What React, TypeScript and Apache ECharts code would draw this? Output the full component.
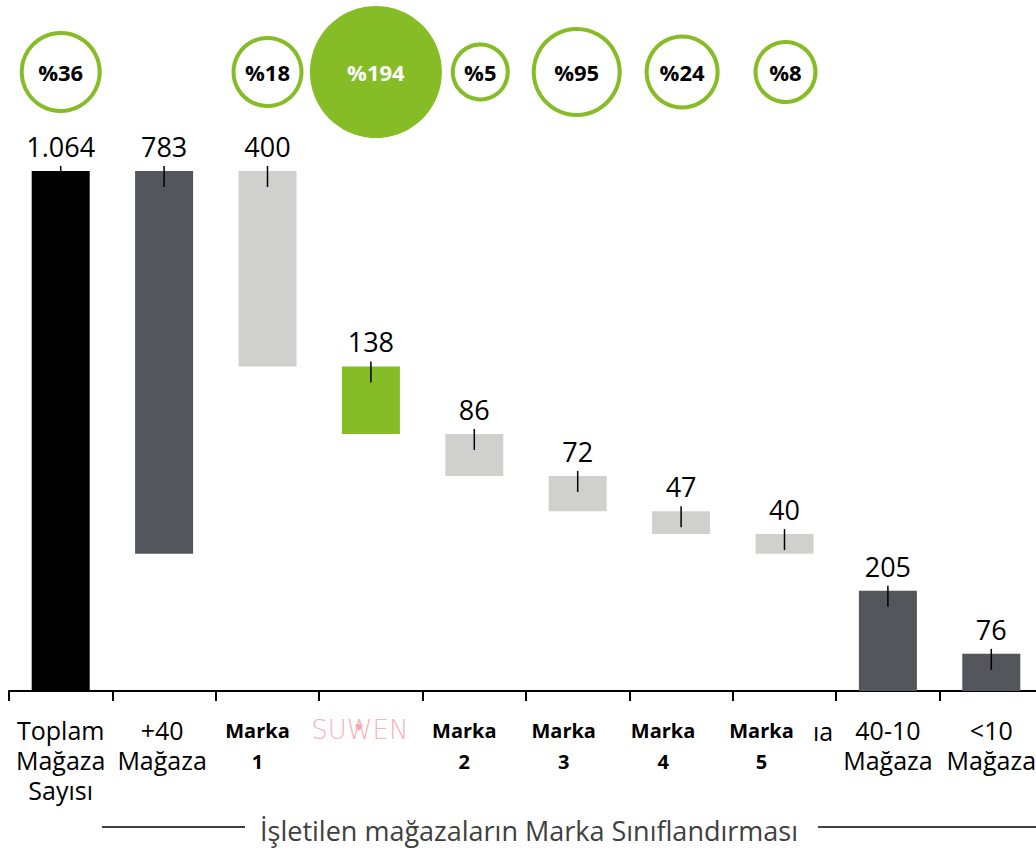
import React, { useEffect, useRef } from "react";
import * as echarts from "echarts";

// ---- data ----
const categories = [
  "Toplam\nMağaza\nSayısı",
  "+40\nMağaza",
  "Marka\n1",
  "SUWEN",
  "Marka\n2",
  "Marka\n3",
  "Marka\n4",
  "Marka\n5",
  "40-10\nMağaza",
  "<10\nMağaza",
];
const storeCounts = [1064, 783, 400, 138, 86, 72, 47, 40, 205, 76];
const barKinds = ["total", "group", "brand", "focus", "brand", "brand", "brand", "brand", "group", "group"];
const sharePercents: (number | null)[] = [36, null, 18, 194, 5, 95, 24, 8, null, null];
const axisTitle = "İşletilen mağazaların Marka Sınıflandırması";

// ---- styles ----
const GREEN = "#86bc25";
const kindColors: Record<string, string> = {
  total: "#000000",
  group: "#53565a",
  brand: "#d0d0ce",
  focus: GREEN,
};
const bubbleDiameters = [78, 0, 68, 132, 55, 86, 71, 60, 0, 0];
const bubbleShift = [0, 0, 0, 5, 6, -1, 1, 1, 0, 0];
const labelShift = [0, -2, -10, -11, -10, -14, -18, -23, 0, 0];
const FONT = "'Open Sans', 'Noto Sans', sans-serif";

function fmt(v: number) {
  return String(v).replace(/\B(?=(\d{3})+(?!\d))/g, ".");
}

// waterfall bases
const bases: number[] = [];
{
  let running = storeCounts[0];
  storeCounts.forEach((v, i) => {
    if (barKinds[i] === "total") bases.push(0);
    else if (i === 1) bases.push(storeCounts[0] - v);
    else if (barKinds[i] === "brand" || barKinds[i] === "focus") {
      running -= v;
      bases.push(running);
    } else bases.push(0);
  });
}

const rich: Record<string, any> = {};
categories.forEach((c, i) => {
  const pad = [0, Math.max(0, -2 * labelShift[i]), 0, 0];
  if (c === "SUWEN") {
    rich["c" + i] = {
      fontFamily: "'DejaVu Sans'",
      fontWeight: 200,
      fontSize: 26,
      color: "#f6b3bb",
      lineHeight: 30,
      padding: pad,
    };
  } else if (c.startsWith("Marka")) {
    rich["c" + i] = { fontFamily: FONT, fontSize: 20, fontWeight: "bold", color: "#000", lineHeight: 31, padding: pad };
  } else {
    rich["c" + i] = { fontFamily: FONT, fontSize: 25, color: "#000", lineHeight: 30, padding: pad };
  }
});

export default function App() {
  const ref = useRef<HTMLDivElement>(null);
  useEffect(() => {
    const chart = echarts.init(ref.current!, null, { renderer: "svg" });
    const option: any = {
      animation: false,
      grid: [
        { left: 9, right: 1, top: 171, bottom: 159 },
        { left: 9, right: 1, top: 0, height: 144 },
      ],
      xAxis: [
        {
          type: "category",
          gridIndex: 0,
          data: categories,
          axisLine: { show: true, lineStyle: { color: "#000", width: 2 } },
          axisTick: { show: true, length: 10, interval: 0, lineStyle: { color: "#000", width: 2 } },
          axisLabel: {
            interval: 0,
            margin: 24,
            formatter: (val: string, idx: number) =>
              val
                .split("\n")
                .map((l) => `{c${idx}|${l}}`)
                .join("\n"),
            rich,
          },
        },
        { type: "category", gridIndex: 1, data: categories, show: false },
      ],
      yAxis: [
        { type: "value", gridIndex: 0, min: 0, max: storeCounts[0], show: false, splitLine: { show: false } },
        { type: "value", gridIndex: 1, min: 0, max: 2, show: false, splitLine: { show: false } },
      ],
      series: [
        {
          type: "bar",
          stack: "w",
          barWidth: 58,
          silent: true,
          itemStyle: { color: "transparent" },
          data: bases,
        },
        {
          type: "bar",
          stack: "w",
          barWidth: 58,
          data: storeCounts.map((v, i) => ({ value: v, itemStyle: { color: kindColors[barKinds[i]] } })),
          label: {
            show: true,
            position: "top",
            distance: 11,
            fontFamily: FONT,
            fontSize: 27,
            lineHeight: 27,
            color: "#000",
            formatter: (p: any) => fmt(p.value),
          },
        },
        {
          type: "custom",
          z: 10,
          data: storeCounts.map((v, i) => [i, bases[i] + v]),
          renderItem: (params: any, api: any) => {
            const p = api.coord([api.value(0), api.value(1)]);
            return {
              type: "line",
              shape: { x1: p[0], y1: p[1] - 5, x2: p[0], y2: p[1] + 16 },
              style: { stroke: "#000", lineWidth: 1.5 },
            };
          },
        },
        {
          type: "scatter",
          xAxisIndex: 1,
          yAxisIndex: 1,
          z: 5,
          data: sharePercents
            .map((pct, i) => ({ pct, i }))
            .filter((d) => d.pct !== null)
            .map(({ pct, i }) => {
              const filled = barKinds[i] === "focus";
              return {
                value: [i, 1, pct],
                symbolSize: bubbleDiameters[i],
                symbolOffset: [bubbleShift[i], 0],
                itemStyle: filled
                  ? { color: GREEN, borderColor: GREEN, borderWidth: 0, opacity: 1 }
                  : { color: "#fff", borderColor: GREEN, borderWidth: 4, opacity: 1 },
                label: { color: filled ? "#fff" : "#000" },
              };
            }),
          symbol: "circle",
          label: {
            show: true,
            position: "inside",
            fontFamily: FONT,
            fontSize: 22,
            fontWeight: "bold",
            formatter: (p: any) => "%" + p.value[2],
          },
        },
      ],
      graphic: [
        { type: "text", x: 359, y: 727, style: { text: "♥", fontSize: 10, fill: "#f4a7b2", align: "center", verticalAlign: "middle", fontFamily: "'DejaVu Sans'" } },
        { type: "rect", shape: { x: 205, y: 752, width: 8, height: 30 }, style: { fill: "#fff" } },
        { type: "text", x: 813, y: 731, style: { text: "ıa", fontSize: 25, fill: "#000", verticalAlign: "middle", fontFamily: FONT } },
        { type: "line", shape: { x1: 102, y1: 827, x2: 245, y2: 827 }, style: { stroke: "#404040", lineWidth: 2 } },
        { type: "line", shape: { x1: 818, y1: 827, x2: 1044, y2: 827 }, style: { stroke: "#404040", lineWidth: 2 } },
        {
          type: "text",
          x: 529,
          y: 830,
          style: { text: axisTitle, fontSize: 27, fill: "#404040", align: "center", verticalAlign: "middle", fontFamily: FONT },
        },
      ],
    };
    chart.setOption(option);
    return () => chart.dispose();
  }, []);
  return (
    <div style={{ position: "fixed", left: 0, top: 0, width: 1036, height: 850, overflow: "hidden", background: "#fff" }}>
      <div ref={ref} style={{ position: "absolute", left: 0, top: 0, width: 1044, height: 850 }} />
    </div>
  );
}
